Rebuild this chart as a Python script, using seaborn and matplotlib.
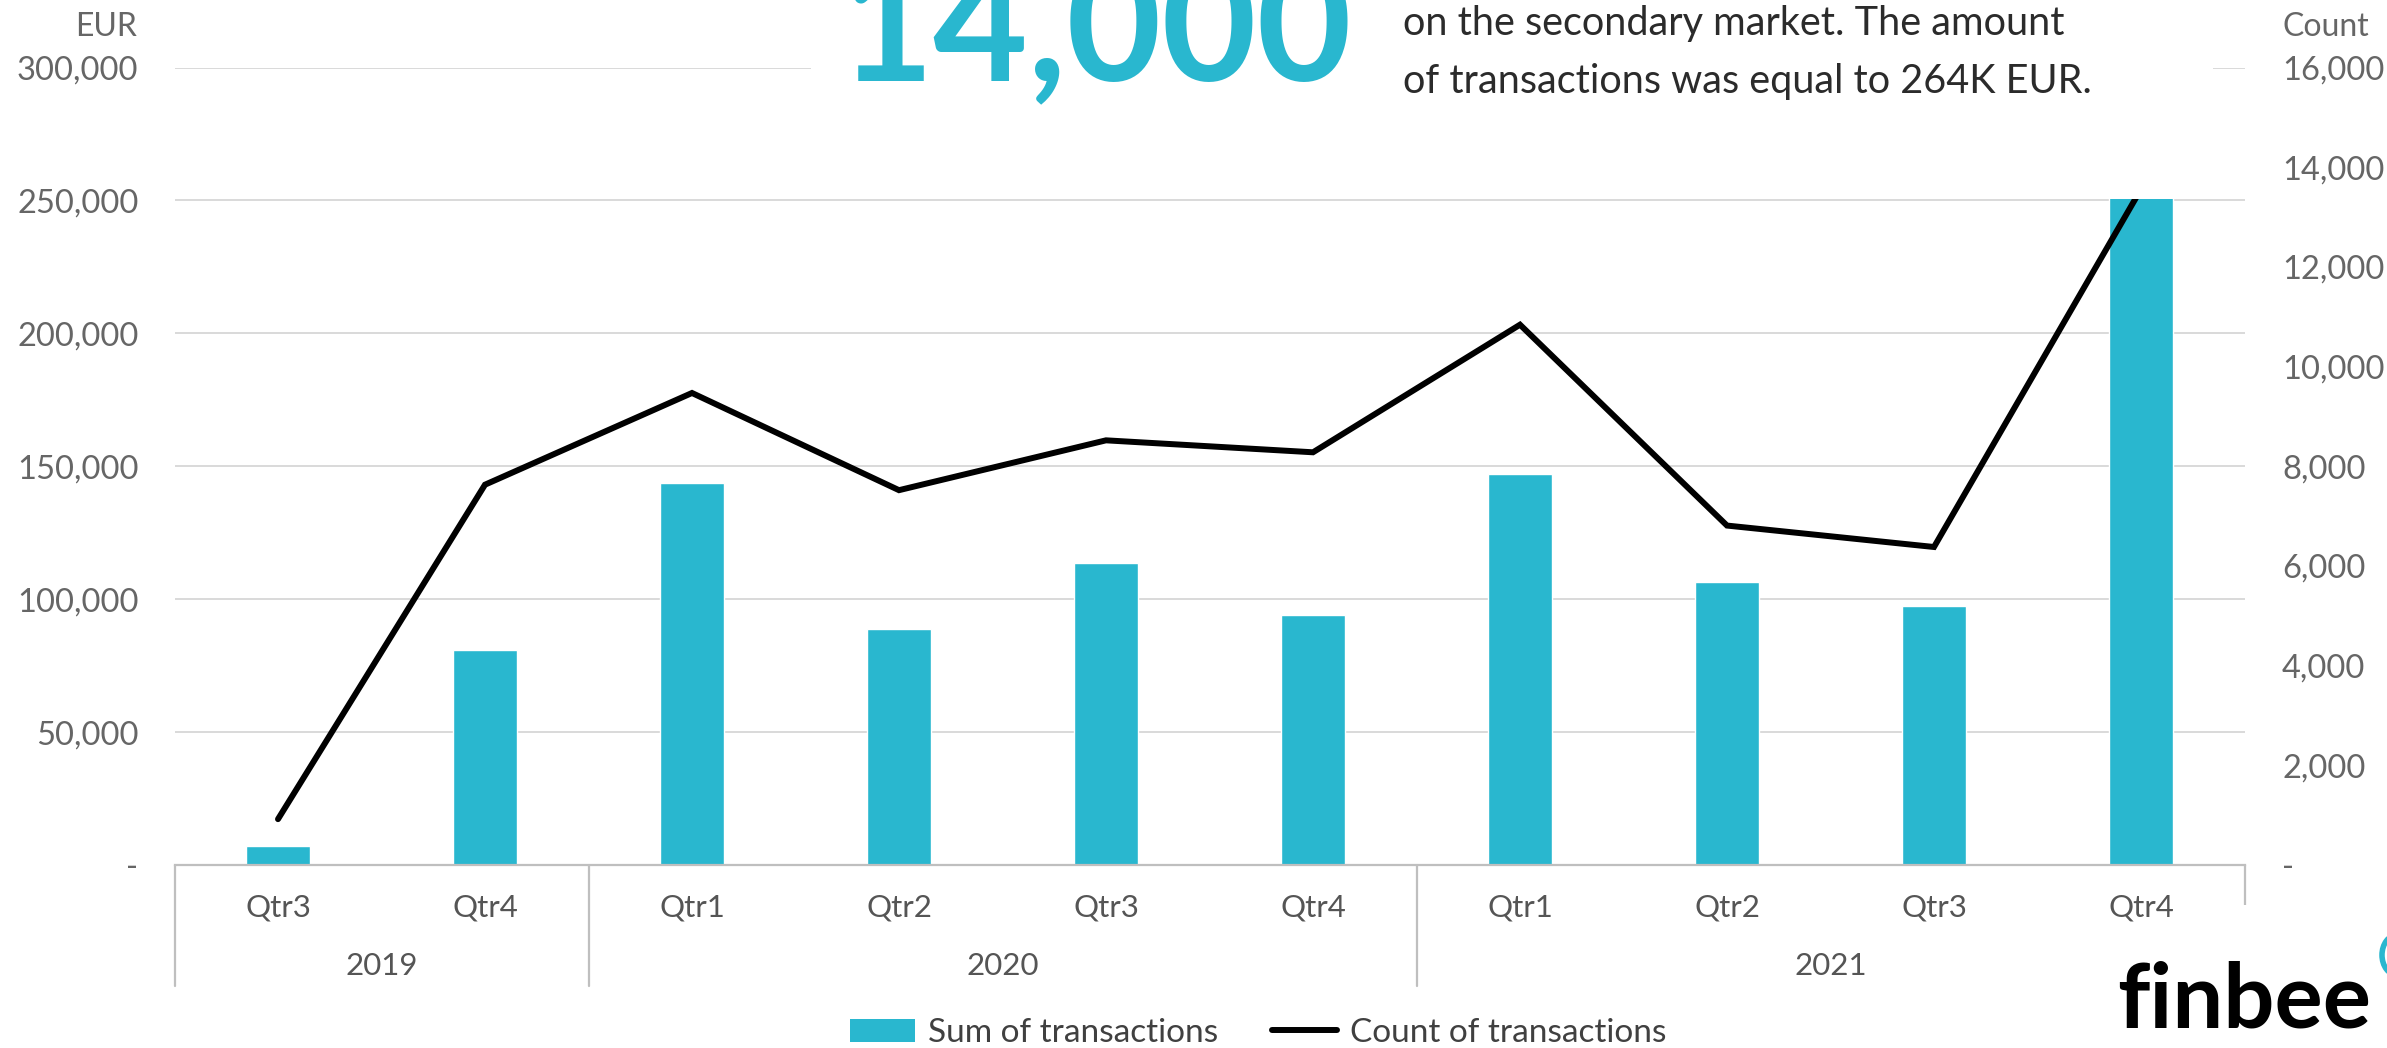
import numpy as np
import pandas as pd
import matplotlib
matplotlib.use("Agg")
import matplotlib.pyplot as plt
import matplotlib.transforms as mtransforms
import seaborn as sns
from matplotlib.patches import Rectangle, Patch, Ellipse
from matplotlib.lines import Line2D
from matplotlib.ticker import FuncFormatter

# Quarterly secondary-market activity
years = ["2019", "2019", "2020", "2020", "2020", "2020", "2021", "2021", "2021", "2021"]
quarters = ["Qtr3", "Qtr4", "Qtr1", "Qtr2", "Qtr3", "Qtr4", "Qtr1", "Qtr2", "Qtr3", "Qtr4"]
sum_eur = [7100, 80800, 143700, 88900, 113500, 94000, 147200, 106600, 97400, 264000]
count_tx = [920, 7630, 9470, 7520, 8520, 8280, 10840, 6810, 6380, 13560]

year_groups = ["2019", "2020", "2021"]
eur_ticks = [0, 50000, 100000, 150000, 200000, 250000, 300000]
count_ticks = [0, 2000, 4000, 6000, 8000, 10000, 12000, 14000, 16000]

CYAN = "#29B7CF"
GRID = "#d9d9d9"
AXIS = "#bfbfbf"
TICK = "#666666"
W, H, DPI = 2387, 1048, 100

sns.set_theme(style="white")
plt.rcParams["font.family"] = ["Lato", "DejaVu Sans"]

df = pd.DataFrame({
    "period": [f"{y} {q}" for y, q in zip(years, quarters)],
    "pos": np.arange(len(years)),
    "sum": sum_eur,
    "count": count_tx,
})


def fx(px):
    return px / W


def fy(py):
    return 1 - py / H


fig = plt.figure(figsize=(W / DPI, H / DPI), dpi=DPI)
fig.patch.set_facecolor("white")

x_left, x_right = 174.5, 2244.5
y_top, y_bot = 67.5, 865
ax = fig.add_axes([fx(x_left), fy(y_bot), (x_right - x_left) / W, (y_bot - y_top) / H])

sns.barplot(data=df, x="period", y="sum", color=CYAN, width=0.314,
            saturation=1, ax=ax, zorder=2)
ax.set_xlim(-0.5, len(years) - 0.5)
ax.set_ylim(eur_ticks[0], eur_ticks[-1])
ax.set_yticks(eur_ticks)


def fmt(v, _):
    return "-" if v == 0 else f"{int(round(v)):,}"


ax.yaxis.set_major_formatter(FuncFormatter(fmt))
ax.yaxis.grid(True, color=GRID, lw=1.4)
ax.xaxis.grid(False)
ax.set_axisbelow(True)
ax.set_xlabel("")
ax.set_ylabel("")
ax.tick_params(axis="y", length=0, pad=26, labelsize=23.5, labelcolor=TICK)
ax.tick_params(axis="x", length=0, labelbottom=False)
for s in ["top", "left", "right"]:
    ax.spines[s].set_visible(False)
ax.spines["bottom"].set_color(AXIS)
ax.spines["bottom"].set_linewidth(1.6)

# Count line on the secondary axis
ax2 = ax.twinx()
sns.lineplot(data=df, x="pos", y="count", color="black", lw=4.3, ax=ax2,
             legend=False, zorder=3)
ax2.lines[0].set_solid_capstyle("round")
ax2.lines[0].set_solid_joinstyle("miter")
ax2.set_ylim(count_ticks[0], count_ticks[-1])
ax2.set_yticks(count_ticks)
ax2.yaxis.set_major_formatter(FuncFormatter(fmt))
ax2.grid(False)
ax2.set_xlabel("")
ax2.set_ylabel("")
ax2.tick_params(axis="y", which="both", length=0, pad=27, labelsize=23.5,
                labelcolor=TICK)
for s in ax2.spines.values():
    s.set_visible(False)

# Two-level category axis: quarters and years
blend = mtransforms.blended_transform_factory(ax.transData, ax.transAxes)
for i, q in enumerate(quarters):
    ax.text(i, -0.0527, q, transform=blend, ha="center", va="center",
            fontsize=22.5, color="#555555")
bounds = [-0.5]
for yr in year_groups:
    idx = [i for i, y in enumerate(years) if y == yr]
    lo, hi = idx[0] - 0.5, idx[-1] + 0.5
    bounds.append(hi)
    ax.text((lo + hi) / 2, -0.1266, yr, transform=blend, ha="center",
            va="center", fontsize=22.5, color="#555555")
for b in bounds:
    ax.plot([b, b], [0, -0.1517], transform=blend, clip_on=False,
            color=AXIS, lw=1.6)

# Axis captions
fig.text(fx(137), fy(27), "EUR", ha="right", va="center", fontsize=23, color=TICK)
fig.text(fx(2283), fy(27), "Count", ha="left", va="center", fontsize=23, color=TICK)

# Headline panel over the top of the plot
fig.add_artist(Rectangle((fx(811), fy(199)), (2213 - 811) / W, 199 / H,
                         transform=fig.transFigure, facecolor="white",
                         edgecolor="none", zorder=10))
fig.text(fx(838), fy(80), "14,000", ha="left", va="baseline", fontsize=118,
         fontweight="bold", color=CYAN, zorder=11)
fig.text(fx(1403), fy(35), "on the secondary market. The amount",
         ha="left", va="baseline", fontsize=28.5, color="#2b2b2b", zorder=11)
fig.text(fx(1403), fy(93), "of transactions was equal to 264K EUR.",
         ha="left", va="baseline", fontsize=28.5, color="#2b2b2b", zorder=11)

# Logo
fig.add_artist(Rectangle((fx(2190), 0), (W - 2190) / W, (H - 905) / H,
                         transform=fig.transFigure, facecolor="white",
                         edgecolor="none", zorder=10))
fig.text(fx(2117), fy(1027), "finbee", ha="left", va="baseline", fontsize=65,
         fontweight="bold", color="black", zorder=11)
fig.add_artist(Ellipse((fx(2397), fy(955)), 30 / W, 40 / H,
                       transform=fig.transFigure, facecolor="none",
                       edgecolor=CYAN, lw=4, zorder=11))

# Legend
handles = [Patch(facecolor=CYAN, edgecolor="none"),
           Line2D([], [], color="black", lw=4.3)]
fig.legend(handles, ["Sum of transactions", "Count of transactions"],
           loc="center", bbox_to_anchor=(fx(1258), fy(1033)), ncol=2,
           frameon=False, fontsize=24, handlelength=1.95, handletextpad=0.4,
           columnspacing=1.6, labelcolor="#404040")

fig.savefig("out.png", dpi=DPI, facecolor="white")
